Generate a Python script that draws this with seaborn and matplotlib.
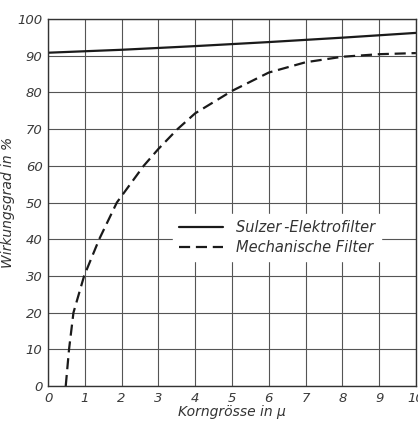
import pandas as pd
import matplotlib.pyplot as plt
import seaborn as sns

# values
sulzer_x = [0, 2, 4, 6, 8, 10]
sulzer_y = [90.8, 91.6, 92.6, 93.7, 94.9, 96.2]

mech_x = [0.48, 0.57, 0.69, 0.98, 1.39, 1.87, 2.6, 3, 3.52, 4, 5, 6, 7, 8, 9, 10]
mech_y = [0, 10, 20, 30, 40, 50, 60, 64.6, 70, 74.3, 80.4, 85.4, 88.2, 89.7, 90.4, 90.7]

labels = ["Sulzer\u2009-Elektrofilter", "Mechanische Filter"]

df = pd.concat([
    pd.DataFrame({"x": sulzer_x, "y": sulzer_y, "Filter": labels[0]}),
    pd.DataFrame({"x": mech_x, "y": mech_y, "Filter": labels[1]}),
])

sns.set_style("white")
plt.rcParams['font.family'] = ['DejaVu Sans']
plt.rcParams['font.style'] = 'italic'

fig = plt.figure(figsize=(4.18, 4.21), dpi=100)
ax = fig.add_axes([0.115, 0.083, 0.88, 0.872])

sns.lineplot(data=df, x="x", y="y", hue="Filter", style="Filter",
             palette=["#1a1a1a", "#1a1a1a"], dashes=[(None, None), (5, 2.6)],
             linewidth=1.6, sort=False, estimator=None, ax=ax)

ax.set_xlim(0, 10)
ax.set_ylim(0, 100)
ax.set_xticks(range(0, 11))
ax.set_yticks(range(0, 101, 10))
ax.grid(True, color="#555555", linewidth=0.8)
ax.tick_params(length=0, labelsize=9.5, colors="#3a3a3a", pad=4)
for s in ax.spines.values():
    s.set_color("#333333")
    s.set_linewidth(1)

ax.set_xlabel("Korngrösse in μ", fontsize=10, color="#333333", labelpad=0)
ax.set_ylabel("Wirkungsgrad in %", fontsize=10, color="#333333", labelpad=2)

leg = ax.legend(title=None, loc="center left", bbox_to_anchor=(0.32, 0.405),
                frameon=True, fontsize=10.5, handlelength=3.0, fancybox=False,
                borderpad=0.4, labelspacing=0.35, handletextpad=0.9)
leg.get_frame().set_facecolor("white")
leg.get_frame().set_edgecolor("white")
leg.get_frame().set_alpha(1)
for t in leg.get_texts():
    t.set_color("#333333")

fig.savefig("out.png", dpi=100)
